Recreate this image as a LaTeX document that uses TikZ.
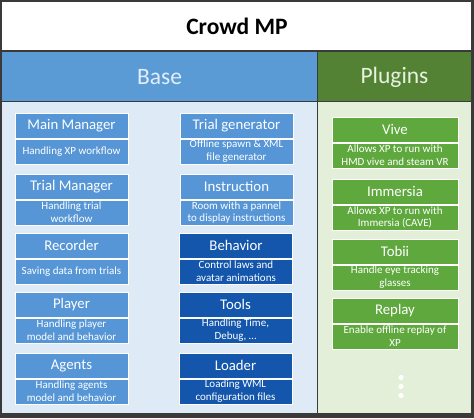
\documentclass[tikz,border=0pt]{standalone}
\usepackage{fontspec}
\setmainfont{Carlito}
\definecolor{framec}{HTML}{3A3A3A}
\definecolor{hblue}{HTML}{5B9BD5}
\definecolor{hgreen}{HTML}{548235}
\definecolor{lblue}{HTML}{DEEAF6}
\definecolor{lgreen}{HTML}{E4EFD9}
\definecolor{boxblue}{HTML}{5696D6}
\definecolor{boxdark}{HTML}{1356AC}
\definecolor{boxgreen}{HTML}{5FA83E}
\definecolor{basetxt}{HTML}{E3EEFA}
\definecolor{plugtxt}{HTML}{E8F2DF}
\tikzset{
  hdrtxt/.style={font=\fontsize{23.5}{26}\selectfont, inner sep=0pt},
  boxtitle/.style={rectangle, draw=white, line width=0.6pt, minimum width=#1, minimum height=25pt,
    inner sep=0pt, text=white, font=\fontsize{14.8}{16}\selectfont, anchor=north},
  boxdesc/.style={rectangle, draw=white, line width=0.6pt, minimum width=#1, minimum height=25pt,
    inner sep=0pt, text=white, font=\fontsize{11}{12.6}\selectfont, align=center, anchor=north},
  dotmark/.style={fill=white}
}
\begin{document}
\begin{tikzpicture}[x=1pt,y=-1pt]
\useasboundingbox (0,0) rectangle (474,418);
\fill[framec] (0,0) rectangle (474,418);
\fill[white] (2,2) rectangle (471,50);
\fill[hblue] (2,51.5) rectangle (317,101);
\fill[hgreen] (318.2,51.5) rectangle (471,101);
\fill[lblue] (2,102.3) rectangle (317,413);
\fill[lgreen] (318.2,102.3) rectangle (471,413);
\node[font=\bfseries\fontsize{23.5}{26}\selectfont, inner sep=0pt] (title) at (237,26) {Crowd MP};
\node[hdrtxt, text=basetxt] (base) at (159.5,77) {Base};
\node[hdrtxt, text=plugtxt] (plugins) at (394.5,77) {Plugins};
% left column
\node[boxtitle=113pt, fill=boxblue] (mm) at (71.5,113) {Main Manager};
\node[boxdesc=113pt, fill=boxblue] (mmd) at (mm.south) {Handling XP workflow};
\node[boxtitle=113pt, fill=boxblue] (tm) at (71.5,174) {Trial Manager};
\node[boxdesc=113pt, fill=boxblue] (tmd) at (tm.south) {Handling trial\\workflow};
\node[boxtitle=113pt, fill=boxblue] (rec) at (71.5,233) {Recorder};
\node[boxdesc=113pt, fill=boxblue] (recd) at (rec.south) {Saving data from trials};
\node[boxtitle=113pt, fill=boxblue] (pl) at (71.5,292) {Player};
\node[boxdesc=113pt, fill=boxblue] (pld) at (pl.south) {Handling player\\model and behavior};
\node[boxtitle=113pt, fill=boxblue] (ag) at (71.5,353) {Agents};
\node[boxdesc=113pt, fill=boxblue] (agd) at (ag.south) {Handling agents\\model and behavior};
% middle column
\node[boxtitle=113pt, fill=boxblue] (tg) at (236.5,113) {Trial generator};
\node[boxdesc=113pt, fill=boxblue] (tgd) at (tg.south) {Offline spawn \& XML\\file generator};
\node[boxtitle=113pt, fill=boxblue] (ins) at (236.5,174) {Instruction};
\node[boxdesc=113pt, fill=boxblue] (insd) at (ins.south) {Room with a pannel\\to display instructions};
\node[boxtitle=113pt, fill=boxdark] (beh) at (236,233) {Behavior};
\node[boxdesc=113pt, fill=boxdark] (behd) at (beh.south) {Control laws and\\avatar animations};
\node[boxtitle=113pt, fill=boxdark] (tools) at (235.5,292) {Tools};
\node[boxdesc=113pt, fill=boxdark] (toolsd) at (tools.south) {Handling Time,\\Debug, \dots};
\node[boxtitle=113pt, fill=boxdark] (load) at (235.5,353) {Loader};
\node[boxdesc=113pt, fill=boxdark] (loadd) at (load.south) {Loading WML\\configuration files};
% plugins
\node[boxtitle=126pt, fill=boxgreen] (vive) at (395,117) {Vive};
\node[boxdesc=126pt, fill=boxgreen] (vived) at (vive.south) {Allows XP to run with\\HMD vive and steam VR};
\node[boxtitle=126pt, fill=boxgreen] (imm) at (395,179) {Immersia};
\node[boxdesc=126pt, fill=boxgreen] (immd) at (imm.south) {Allows XP to run with\\Immersia (CAVE)};
\node[boxtitle=126pt, fill=boxgreen] (tob) at (395,239) {Tobii};
\node[boxdesc=126pt, fill=boxgreen] (tobd) at (tob.south) {Handle eye tracking\\glasses};
\node[boxtitle=126pt, fill=boxgreen] (rep) at (395,298) {Replay};
\node[boxdesc=126pt, fill=boxgreen] (repd) at (rep.south) {Enable offline replay of\\XP};
% dots
\fill[dotmark] (401,377.5) circle (2.6);
\fill[dotmark] (401,386.5) circle (2.6);
\fill[dotmark] (401,395.5) circle (2.6);
\end{tikzpicture}
\end{document}
